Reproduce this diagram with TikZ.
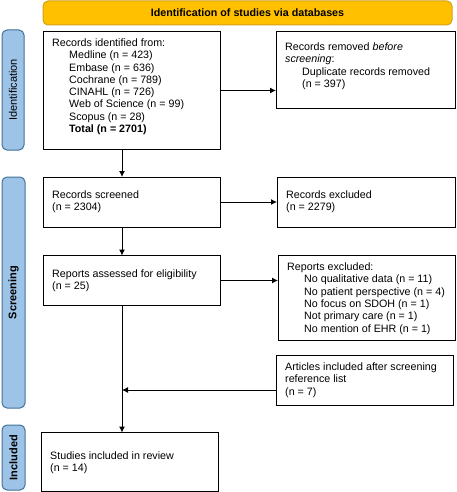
\documentclass[tikz,border=0pt]{standalone}
\usepackage{fontspec}
\setmainfont{Liberation Sans}
\usetikzlibrary{arrows.meta}
\definecolor{bannerfill}{HTML}{FFC000}
\definecolor{bannerline}{HTML}{D4A017}
\definecolor{sidefill}{HTML}{9DC3E6}
\definecolor{sideline}{HTML}{41719C}
\newcommand{\lns}[1]{\begin{tabular}[t]{@{}l@{}}#1\end{tabular}}
\newcommand{\fsz}{\fontsize{10.7pt}{12.3pt}\selectfont}
\tikzset{
  box/.style={draw=black, line width=1pt, fill=white, inner sep=0pt, outer sep=0pt, anchor=north west},
  banner/.style={draw=bannerline, line width=1pt, fill=bannerfill, rounded corners=5pt, inner sep=0pt, outer sep=0pt, anchor=north west},
  side/.style={draw=sideline, line width=1pt, fill=sidefill, rounded corners=5pt, inner sep=0pt, outer sep=0pt, anchor=north west},
  sidetext/.style={rotate=90, inner sep=0pt},
  txt/.style={anchor=base west, inner sep=0pt, font=\fsz},
  arr/.style={line width=1pt, -{Latex[length=6pt,width=6pt]}}
}
\begin{document}
\begin{tikzpicture}[x=1pt,y=-1pt]
\useasboundingbox (0,0) rectangle (456,492);
% banner
\node[banner, minimum width=409pt, minimum height=24pt] (ban) at (43,1) {};
\node[font=\fsz\bfseries, inner sep=0pt] (bant) at (ban.center) {Identification of studies via databases};
% side bars
\node[side, minimum width=22pt, minimum height=120pt] (sid) at (2,30) {};
\node[sidetext, font=\fontsize{11pt}{12pt}\selectfont] (sidt) at (sid.center) {Identification};
\node[side, minimum width=23pt, minimum height=231pt] (sscr) at (2,177) {};
\node[sidetext, font=\fontsize{11pt}{12pt}\selectfont\bfseries] (sscrt) at (sscr.center) {Screening};
\node[side, minimum width=23pt, minimum height=65pt] (sinc) at (2,425) {};
\node[sidetext, font=\fontsize{11pt}{12pt}\selectfont\bfseries] (sinct) at (sinc.center) {Included};
% boxes
\node[box, minimum width=177pt, minimum height=117pt] (id) at (43,32) {};
\node[txt] (idt) at (52,46.5) {\lns{Records identified from:\\
\hspace*{17pt}Medline (n = 423)\\
\hspace*{17pt}Embase (n = 636)\\
\hspace*{17pt}Cochrane (n = 789)\\
\hspace*{17pt}CINAHL (n = 726)\\
\hspace*{17pt}Web of Science (n = 99)\\
\hspace*{17pt}Scopus (n = 28)\\
\hspace*{17pt}\textbf{Total (n = 2701)}}};
\node[box, minimum width=179pt, minimum height=77pt] (rem) at (276,32) {};
\node[txt] (remt) at (285,50.5) {\lns{Records removed \textit{before}\\
\textit{screening}:\\
\hspace*{17pt}Duplicate records removed\\
\hspace*{17pt}(n = 397)}};
\node[box, minimum width=177pt, minimum height=50pt] (scr) at (43,177) {};
\node[txt] (scrt) at (52,198.5) {\lns{Records screened\\(n = 2304)}};
\node[box, minimum width=178pt, minimum height=50pt] (exc) at (277,177) {};
\node[txt] (exct) at (286,198.5) {\lns{Records excluded\\(n = 2279)}};
\node[box, minimum width=177pt, minimum height=50pt] (ass) at (43,255.5) {};
\node[txt] (asst) at (52,277.5) {\lns{Reports assessed for eligibility\\(n = 25)}};
\node[box, minimum width=177pt, minimum height=84.5pt] (rex) at (278,255.5) {};
\node[txt] (rext) at (287,270.5) {\lns{Reports excluded:\\
\hspace*{17pt}No qualitative data (n = 11)\\
\hspace*{17pt}No patient perspective (n = 4)\\
\hspace*{17pt}No focus on SDOH (n = 1)\\
\hspace*{17pt}Not primary care (n = 1)\\
\hspace*{17pt}No mention of EHR (n = 1)}};
\node[box, minimum width=177pt, minimum height=50pt] (art) at (276.5,355.5) {};
\node[txt] (artt) at (285,370.5) {\lns{Articles included after screening\\reference list\\(n = 7)}};
\node[box, minimum width=177pt, minimum height=59pt] (stu) at (41.5,432.5) {};
\node[txt] (stut) at (50,459.5) {\lns{Studies included in review\\(n = 14)}};
% connectors
\coordinate (xl) at (122,0);
\coordinate (join) at (122,390);
\draw[arr] (id.east) -- (rem.west |- id.east);
\draw[arr] (id.south -| xl) -- (scr.north -| xl);
\draw[arr] (scr.east) -- (exc.west |- scr.east);
\draw[arr] (scr.south -| xl) -- (ass.north -| xl);
\draw[arr] (ass.east) -- (rex.west |- ass.east);
\draw[arr] (ass.south -| xl) -- (stu.north -| xl);
\draw[arr] (art.west |- join) -- (join);
\end{tikzpicture}
\end{document}
